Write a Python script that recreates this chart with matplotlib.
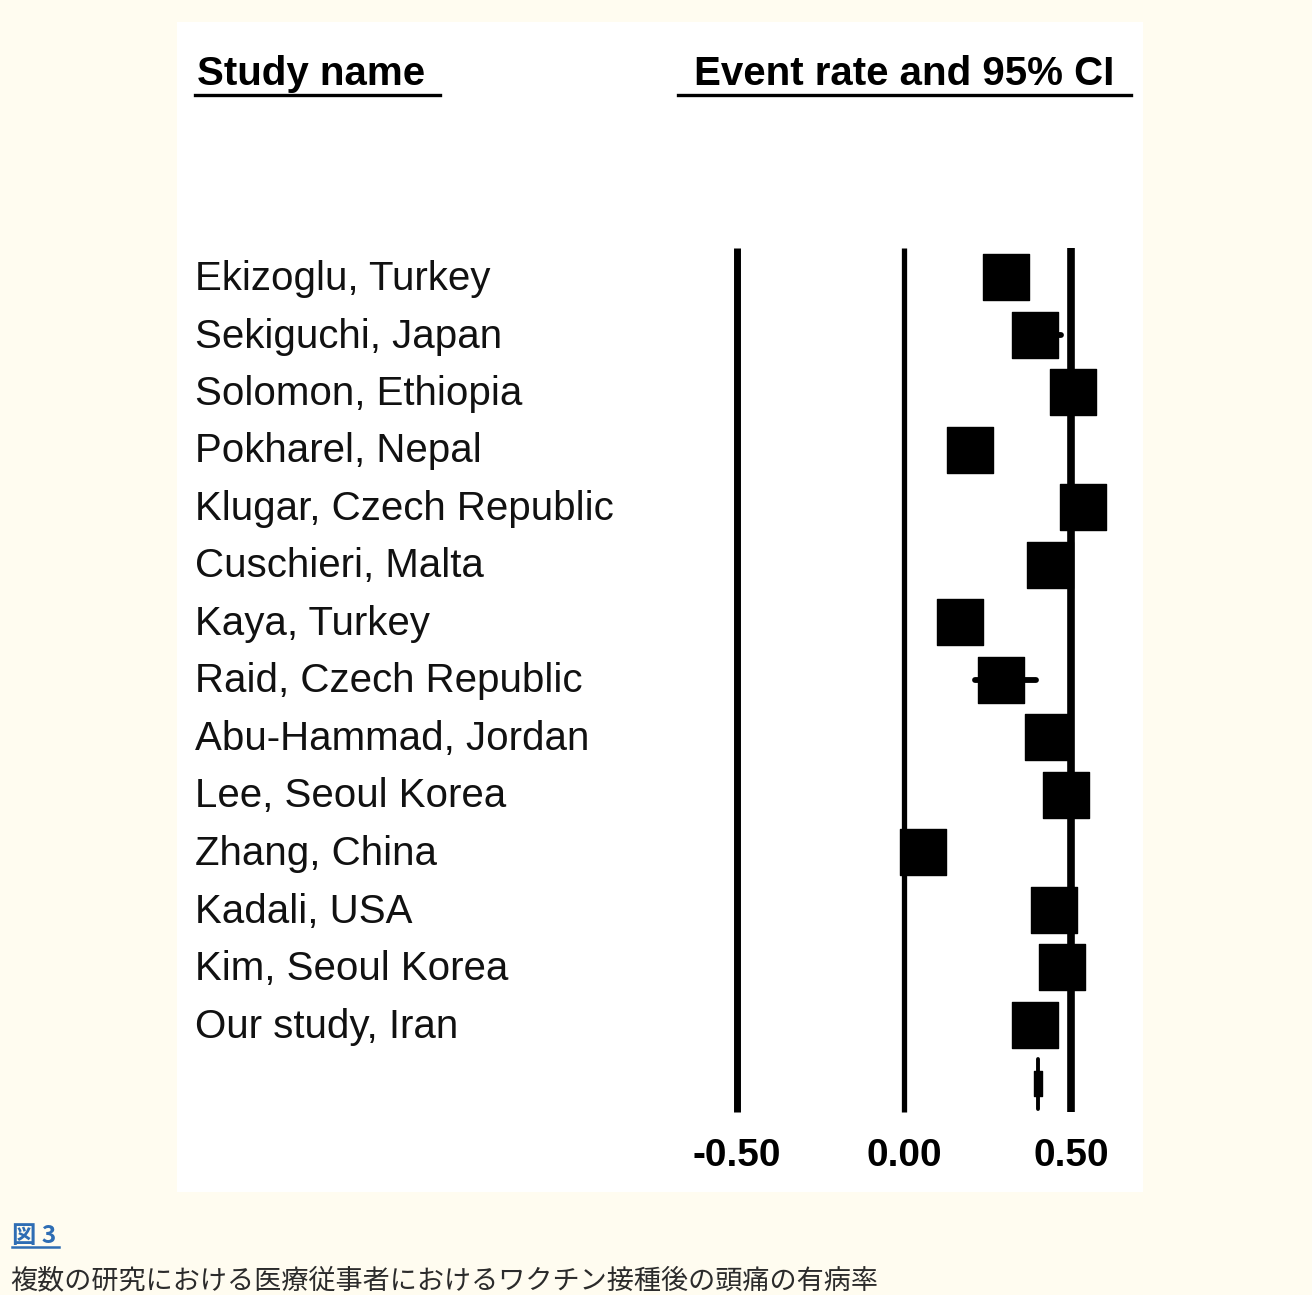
import matplotlib.pyplot as plt
from matplotlib.patches import Rectangle

# Study-level event rates (headache after vaccination) with 95% CI
studies = ['Ekizoglu, Turkey', 'Sekiguchi, Japan', 'Solomon, Ethiopia', 'Pokharel, Nepal',
           'Klugar, Czech Republic', 'Cuschieri, Malta', 'Kaya, Turkey', 'Raid, Czech Republic',
           'Abu-Hammad, Jordan', 'Lee, Seoul Korea', 'Zhang, China', 'Kadali, USA',
           'Kim, Seoul Korea', 'Our study, Iran']
rate = [0.304, 0.392, 0.506, 0.198, 0.535, 0.437, 0.168, 0.290, 0.430, 0.485, 0.057, 0.449, 0.473, 0.392]
lower = [0.270, 0.350, 0.470, 0.170, 0.500, 0.400, 0.140, 0.213, 0.400, 0.450, 0.030, 0.420, 0.440, 0.360]
upper = [0.340, 0.470, 0.540, 0.230, 0.570, 0.470, 0.200, 0.395, 0.460, 0.520, 0.090, 0.480, 0.505, 0.420]
pooled, pooled_lo, pooled_hi = 0.401, 0.388, 0.414
xticks = [-0.5, 0.0, 0.5]
xtick_labels = ['-0.50', '0.00', '0.50']

W, H = 1312, 1295
fig = plt.figure(figsize=(W / 100, H / 100), dpi=100, facecolor='#fffcf0')

# white panel holding the forest plot
left, right, top, bottom = 177, 1143, 22, 1192
ax = fig.add_axes([left / W, 1 - bottom / H, (right - left) / W, (bottom - top) / H])
ax.set_facecolor('white')
for s in ax.spines.values():
    s.set_visible(False)
ax.set_xticks([])
ax.set_yticks([])

# x: 334 px per unit, zero at px 904; y: one row per 57.5 px, first row at px 277
x0, xs = 904, 334
y0, ys = 277, 57.5
ax.set_xlim((left - x0) / xs, (right - x0) / xs)
ax.set_ylim((bottom - y0) / ys, (top - y0) / ys)

def px_x(p):
    return (p - x0) / xs

def px_y(p):
    return (p - y0) / ys

rows = list(range(len(studies)))
sq_w = 46 / xs
sq_h = 46 / ys

# reference lines
line_top, line_bot = px_y(248), px_y(1112)
for t, lw in zip(xticks, [5.0, 3.8, 5.5]):
    ax.plot([t, t], [line_top, line_bot], color='black', lw=lw, solid_capstyle='butt')

# study CIs and squares
for r, m, lo, hi in zip(rows, rate, lower, upper):
    ax.plot([lo, hi], [r, r], color='black', lw=4.2, solid_capstyle='round')
    ax.add_patch(Rectangle((m - sq_w / 2, r - sq_h / 2), sq_w, sq_h,
                           facecolor='black', edgecolor='black', lw=1, joinstyle='round'))

# pooled estimate: very narrow CI, drawn as a slim upright marker
pr = len(studies)
ax.plot([pooled, pooled], [pr - 23 / ys, pr + 27 / ys], color='black', lw=2.8, solid_capstyle='round')
ax.add_patch(Rectangle((pooled_lo, pr - 11 / ys), pooled_hi - pooled_lo, 25 / ys,
                       facecolor='black', edgecolor='black', lw=1, joinstyle='round'))

# study names
name_font = dict(family='Liberation Sans', fontsize=29, color='#111111')
for r, name in zip(rows, studies):
    ax.text(px_x(195), r + 13 / ys, name, ha='left', va='baseline', **name_font)

# column headers with underlines
head_font = dict(family='Liberation Sans', fontsize=29, fontweight='bold', color='black')
ax.text(px_x(197), px_y(85), 'Study name', ha='left', va='baseline', **head_font)
ax.text(px_x(904), px_y(85), 'Event rate and 95% CI', ha='center', va='baseline', **head_font)
ax.plot([px_x(195), px_x(440)], [px_y(95), px_y(95)], color='black', lw=2.4)
ax.plot([px_x(678), px_x(1131)], [px_y(95), px_y(95)], color='black', lw=2.4)

# tick labels
for t, lab in zip(xticks, xtick_labels):
    ax.text(t, px_y(1166), lab, ha='center', va='baseline',
            family='Liberation Sans', fontsize=28, fontweight='bold', color='black')

# caption below the panel
fig.text(12 / W, 1 - 1243 / H, '図 3', ha='left', va='baseline',
         family=['Noto Sans CJK JP', 'DejaVu Sans'], fontsize=17.5, fontweight='bold', color='#2e6db4')
fig.add_artist(plt.Line2D([12 / W, 59 / W], [1 - 1247 / H, 1 - 1247 / H],
                          color='#2e6db4', lw=1.8))
fig.text(10 / W, 1 - 1288 / H, '複数の研究における医療従事者におけるワクチン接種後の頭痛の有病率',
         ha='left', va='baseline', family=['Noto Sans CJK JP', 'DejaVu Sans'],
         fontsize=19.5, color='#2b2b2b')

fig.savefig('out.png', dpi=100, facecolor=fig.get_facecolor())
